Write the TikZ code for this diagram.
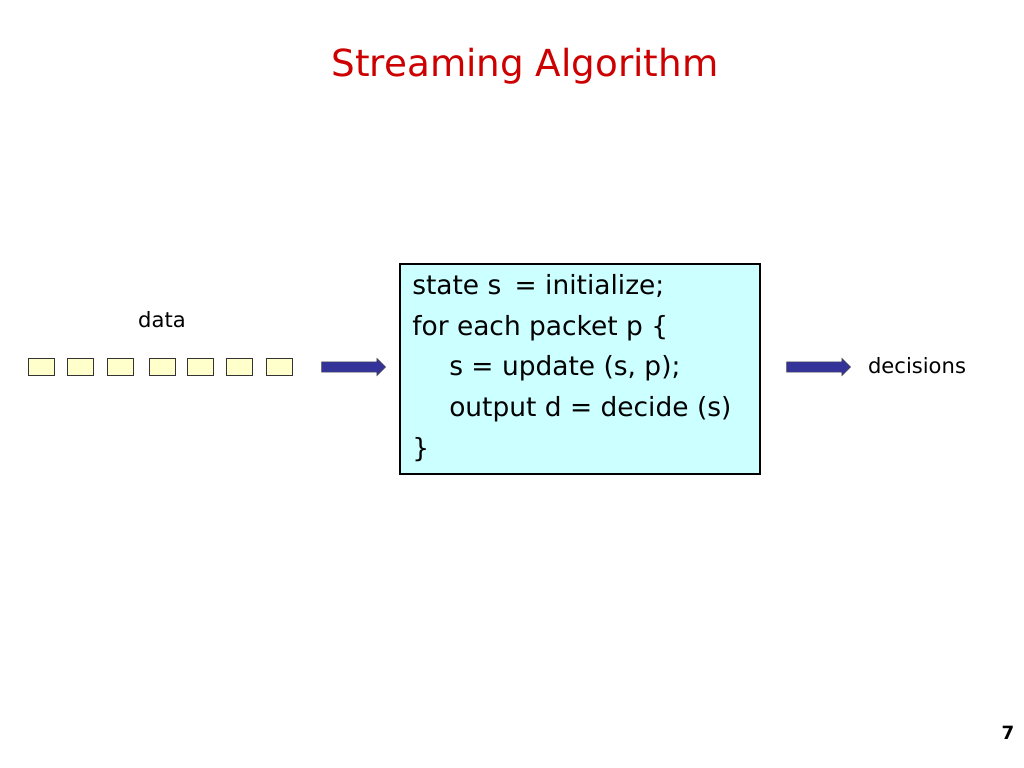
\documentclass[tikz,border=0pt]{standalone}
\usepackage{fontspec}
\setmainfont{DejaVu Sans}
\usetikzlibrary{shapes.arrows}
\definecolor{pktfill}{HTML}{FFFFCC}
\definecolor{boxfill}{HTML}{CCFFFF}
\definecolor{arrowfill}{HTML}{333399}
\definecolor{titlered}{HTML}{CC0000}

\begin{document}
\begin{tikzpicture}[x=0.025cm,y=-0.025cm]
    \tikzset{
        packet/.style = {draw = black!80, fill = pktfill, minimum width = 0.65cm,
            minimum height = 0.42cm, inner sep = 0pt},
        flow/.style = {single arrow, draw = black!70, fill = arrowfill,
            inner xsep = 0pt, inner ysep = 0.12cm, minimum width = 0.42cm,
            single arrow head extend = 0.09cm, minimum height = 1.6cm,
            single arrow head indent = 0pt},
        label/.style = {font = \fontsize{15}{18}\selectfont}
    }
    \useasboundingbox (0,0) rectangle (1024,768);

	\node[titlered, font=\fontsize{26.5}{30}\selectfont] (title) at (525,66) {Streaming Algorithm};

	\foreach \x [count=\i] in {41,80,120,162,200,239,279} {
		\node[packet] (p\i) at (\x,367) {};
	}
	\node[label] (data) at (162,320) {data};

	\node[flow] (in) at (351,367) {};

	\node[draw = black, thick, fill = boxfill, minimum width = 9cm, minimum height = 5.25cm,
		inner sep = 0pt] (algo) at (580,369) {};
	\node[anchor = north west, align = left, inner sep = 0pt,
		font = \fontsize{18.8}{29}\selectfont] (code) at (412,274) {%
		state s\enspace = initialize;\\
		for each packet p \{\\
		\hspace{1.4em}s = update (s, p);\\
		\hspace{1.4em}output d = decide (s)\\
		\}};

	\node[flow] (out) at (816,367) {};
	\node[label] (dec) at (917,366) {decisions};

	\node[font = \bfseries\fontsize{13}{15}\selectfont] (page) at (1008,733) {7};
\end{tikzpicture}
\end{document}
